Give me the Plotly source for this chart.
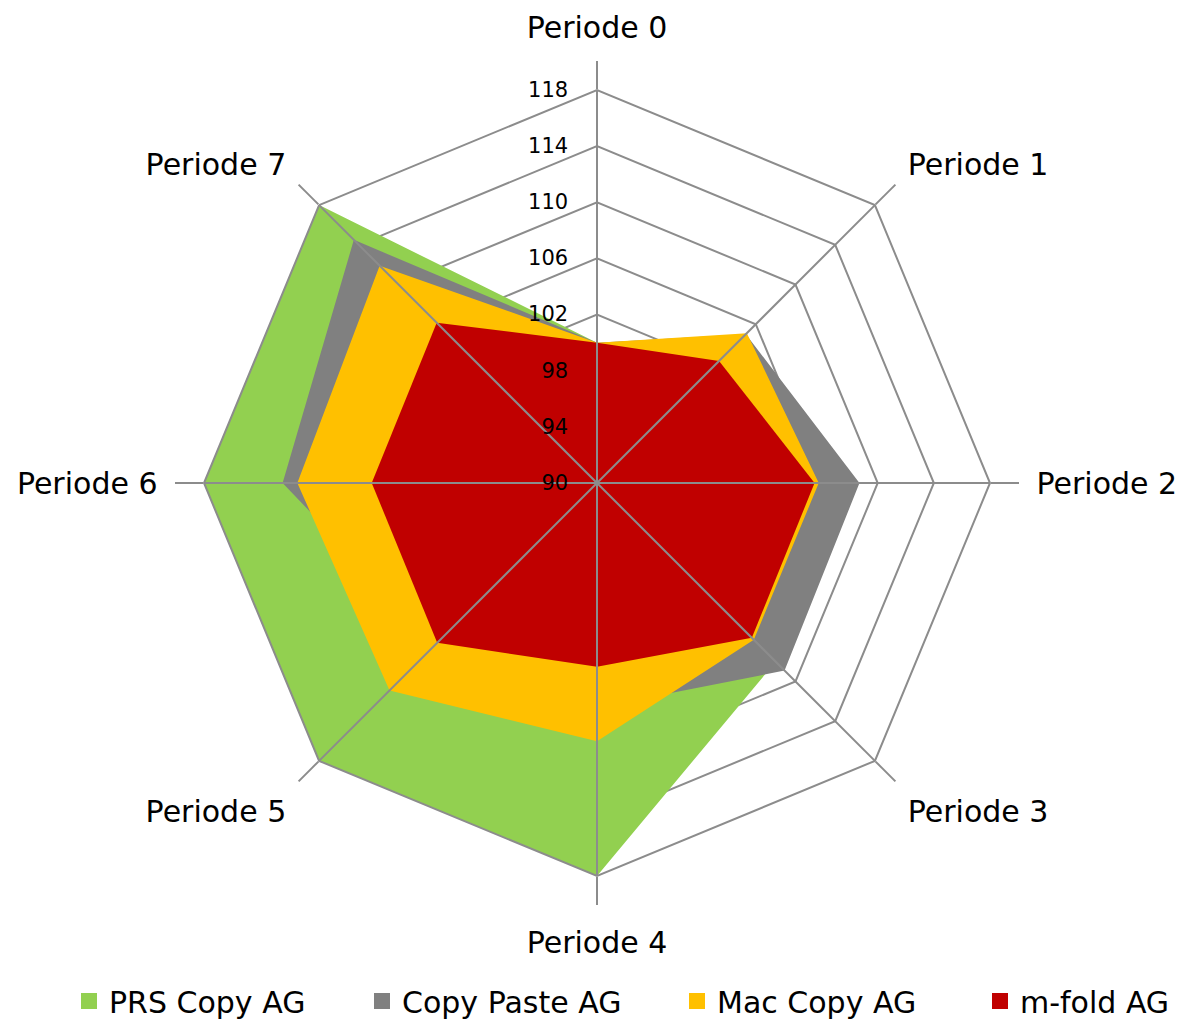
import plotly.graph_objects as go

categories = ["Periode 0", "Periode 1", "Periode 2", "Periode 3",
              "Periode 4", "Periode 5", "Periode 6", "Periode 7"]
series_names = ["PRS Copy AG", "Copy Paste AG", "Mac Copy AG", "m-fold AG"]
prs_copy = [100, 103, 105, 108, 118, 118, 118, 118]
copy_paste = [100, 105, 108.7, 108.9, 106, 106.2, 112.4, 114.5]
mac_copy = [100, 105.1, 105.8, 105.8, 108.4, 110.9, 111.35, 111.9]
m_fold = [100, 102.3, 105.5, 105.6, 103.1, 106.1, 106.05, 106.15]
colors = ["#92D050", "#808080", "#FFC000", "#C00000"]
radial_ticks = [90, 94, 98, 102, 106, 110, 114, 118]

grid_col = "#8C8C8C"
FONT = "DejaVu Sans"
W, H = 1177, 1013   # page body adds 8px offset

fig = go.Figure()
for name, vals, col in zip(series_names, [prs_copy, copy_paste, mac_copy, m_fold], colors):
    fig.add_trace(go.Scatterpolar(
        r=vals, theta=categories, name=name, mode="lines",
        fill="toself", fillcolor=col, line=dict(color=col, width=0),
        subplot="polar", hoverinfo="skip", showlegend=False))

# legend-only square entries, one legend per entry
legend_ids = ["legend", "legend2", "legend3", "legend4"]
for name, col, lid in zip(series_names, colors, legend_ids):
    fig.add_trace(go.Scatterpolar(
        r=[None], theta=[None], name=name, mode="markers",
        marker=dict(symbol="square", size=16, color=col),
        subplot="polar", legend=lid, showlegend=True, hoverinfo="skip"))

# invisible trace to set up the overlay polar (spokes, labels on top)
fig.add_trace(go.Scatterpolar(
    r=[90] * len(categories), theta=categories, mode="markers",
    marker=dict(opacity=0), showlegend=False, subplot="polar2", hoverinfo="skip"))

dom_x = [(204 - 8) / W, (990 - 8) / W]
dom_y = [1 - (876 - 8) / H, 1 - (90 - 8) / H]

legend_font = dict(size=30, family=FONT, color="black")
square_left = [81, 374, 689, 992]
legend_y = 1 - (1001 - 8) / H
legends = {}
for lid, sx in zip(legend_ids, square_left):
    legends[lid] = dict(
        orientation="h", x=(sx - 8 - 12) / W, xanchor="left",
        y=legend_y, yanchor="middle", font=legend_font,
        bgcolor="rgba(0,0,0,0)", borderwidth=0)

fig.update_layout(
    width=W, height=H,
    margin=dict(l=0, r=0, t=0, b=0, autoexpand=False),
    paper_bgcolor="white",
    font=dict(family=FONT, color="black"),
    polar=dict(
        domain=dict(x=dom_x, y=dom_y),
        bgcolor="white",
        gridshape="linear",
        angularaxis=dict(
            type="category", categoryarray=categories,
            rotation=90, direction="clockwise",
            showgrid=False, showline=True, linecolor=grid_col, linewidth=2,
            ticks="outside", ticklen=28, tickwidth=2, tickcolor=grid_col,
            showticklabels=False),
        radialaxis=dict(
            range=[90, 118], tickvals=radial_ticks,
            showgrid=True, gridcolor=grid_col, gridwidth=2,
            showline=False, showticklabels=False, ticks="")),
    polar2=dict(
        domain=dict(x=dom_x, y=dom_y),
        bgcolor="rgba(0,0,0,0)",
        gridshape="linear",
        angularaxis=dict(
            type="category", categoryarray=categories,
            rotation=90, direction="clockwise",
            showgrid=True, gridcolor=grid_col, gridwidth=2,
            showline=False, showticklabels=True,
            ticks="outside", ticklen=40, tickcolor="rgba(0,0,0,0)",
            tickfont=dict(size=30, family=FONT, color="black")),
        radialaxis=dict(
            range=[90, 118], tickvals=radial_ticks,
            showgrid=False, showline=False,
            ticks="outside", ticklen=21, tickcolor="rgba(0,0,0,0)",
            angle=90, tickangle=90, side="counterclockwise",
            tickfont=dict(size=21, family=FONT, color="black"))),
    **legends,
)

fig.write_html("out.html")
